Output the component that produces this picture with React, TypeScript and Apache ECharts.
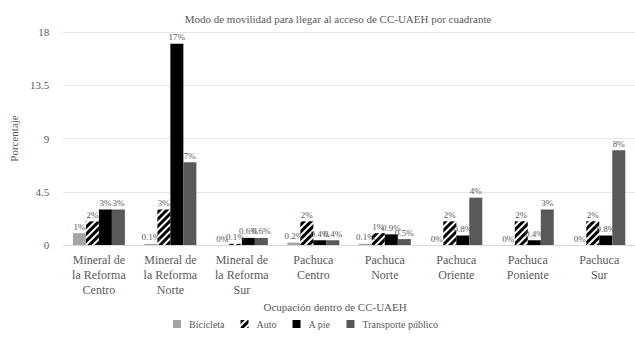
import React, { useEffect, useRef } from "react";
import * as echarts from "echarts";

// Quadrants of the campus surroundings
const categories = [
  "Mineral de\nla Reforma\nCentro",
  "Mineral de\nla Reforma\nNorte",
  "Mineral de\nla Reforma\nSur",
  "Pachuca\nCentro",
  "Pachuca\nNorte",
  "Pachuca\nOriente",
  "Pachuca\nPoniente",
  "Pachuca\nSur",
];

// Percentage of respondents per mobility mode
const bicicleta = [1, 0.1, 0, 0.2, 0.1, 0, 0, 0];
const auto = [2, 3, 0.1, 2, 1, 2, 2, 2];
const aPie = [3, 17, 0.6, 0.4, 0.9, 0.8, 0.4, 0.8];
const transportePublico = [3, 7, 0.6, 0.4, 0.5, 4, 3, 8];

const seriesNames = ["Bicicleta", "Auto", "A pie", "Transporte público"];

const FONT = "Liberation Serif";
const TEXT = "#595959";

export default function App() {
  const ref = useRef<HTMLDivElement>(null);

  useEffect(() => {
    if (!ref.current) return;
    const chart = echarts.init(ref.current, undefined, { renderer: "svg" });

    const label = () => ({
      show: true,
      position: "top" as const,
      distance: 2,
      fontFamily: FONT,
      fontSize: 9,
      color: TEXT,
      formatter: "{c}%",
    });

    const mk = (name: string, data: number[], itemStyle: any) => ({
      name,
      type: "bar" as const,
      data,
      barWidth: 13,
      barGap: "0%",
      label: label(),
      itemStyle,
    });

    chart.setOption({
      animation: false,
      backgroundColor: "#ffffff",
      textStyle: { fontFamily: FONT },
      title: {
        text: "Modo de movilidad para llegar al acceso de CC-UAEH por cuadrante",
        left: 333,
        textAlign: "center",
        top: 8,
        textStyle: {
          fontFamily: FONT,
          fontSize: 11,
          fontWeight: "normal",
          color: TEXT,
        },
      },
      legend: {
        top: 314,
        left: 168,
        itemWidth: 8,
        itemHeight: 8,
        itemGap: 16,
        icon: "rect",
        textStyle: {
          fontFamily: FONT,
          fontSize: 10,
          color: TEXT,
          padding: [0, 0, 0, 3],
        },
        data: seriesNames,
      },
      grid: { left: 58, right: 0, top: 32, bottom: 102 },
      xAxis: {
        type: "category",
        data: categories,
        name: "Ocupación dentro de CC-UAEH",
        nameLocation: "middle",
        nameGap: 49,
        nameTextStyle: {
          fontFamily: FONT,
          fontSize: 11,
          color: TEXT,
          padding: [0, 28, 0, 0],
        },
        axisLine: { lineStyle: { color: "#d9d9d9" } },
        axisTick: { show: false },
        axisLabel: {
          interval: 0,
          fontFamily: FONT,
          fontSize: 12,
          lineHeight: 15,
          color: TEXT,
          margin: 7,
        },
      },
      yAxis: {
        type: "value",
        min: 0,
        max: 18,
        interval: 4.5,
        name: "Porcentaje",
        nameLocation: "middle",
        nameGap: 43,
        nameTextStyle: { fontFamily: FONT, fontSize: 11, color: TEXT },
        axisLine: { show: false },
        axisTick: { show: false },
        axisLabel: {
          fontFamily: FONT,
          fontSize: 11,
          color: TEXT,
          margin: 14,
          formatter: (v: number) => String(v),
        },
        splitLine: { lineStyle: { color: "#e6e6e6" } },
      },
      series: [
        mk(seriesNames[0], bicicleta, { color: "#a5a5a5" }),
        mk(seriesNames[1], auto, {
          color: "#ffffff",
          decal: {
            symbol: "rect",
            symbolSize: 1,
            color: "#000000",
            backgroundColor: "#ffffff",
            dashArrayX: [1, 0],
            dashArrayY: [3, 2],
            rotation: -Math.PI / 4,
          },
        }),
        mk(seriesNames[2], aPie, { color: "#000000" }),
        mk(seriesNames[3], transportePublico, { color: "#595959" }),
      ],
    });

    return () => chart.dispose();
  }, []);

  return (
    <div
      ref={ref}
      style={{ position: "fixed", left: 0, top: 0, width: 635, height: 347 }}
    />
  );
}
